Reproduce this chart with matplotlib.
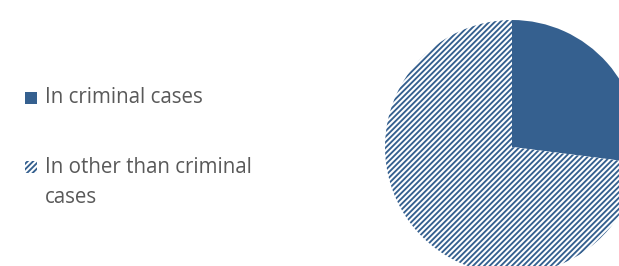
import matplotlib
matplotlib.use('Agg')
import matplotlib.pyplot as plt
from matplotlib.patches import Rectangle

labels = ['In criminal cases', 'In other than criminal', 'cases']
values = [27, 73]

BLUE = '#35608F'
TEXT = '#595959'
W, H = 619, 266

plt.rcParams['hatch.linewidth'] = 1.35
fig = plt.figure(figsize=(W / 100, H / 100), dpi=100)
ax = fig.add_axes([0, 0, 1, 1])

wedges, _ = ax.pie(values, center=(512, H - 147), radius=127, startangle=90,
                   counterclock=False, colors=[BLUE, 'white'],
                   wedgeprops=dict(linewidth=0, edgecolor=BLUE), frame=False)
wedges[1].set_hatch('//////')
ax.set_xlim(0, W)
ax.set_ylim(0, H)
ax.set_aspect('auto')
ax.axis('off')

# legend
ax.add_patch(Rectangle((25, H - 104), 12, 12, facecolor=BLUE, edgecolor=BLUE, linewidth=0))
ax.add_patch(Rectangle((25, H - 173), 12, 12, facecolor='white', edgecolor=BLUE,
                       linewidth=0, hatch='//////'))
kw = dict(fontsize=14.8, color=TEXT, family='Open Sans', va='baseline')
ax.text(45, H - 103, labels[0], **kw)
ax.text(45, H - 173, labels[1], **kw)
ax.text(45, H - 203, labels[2], **kw)

fig.savefig('out.png', dpi=100)
